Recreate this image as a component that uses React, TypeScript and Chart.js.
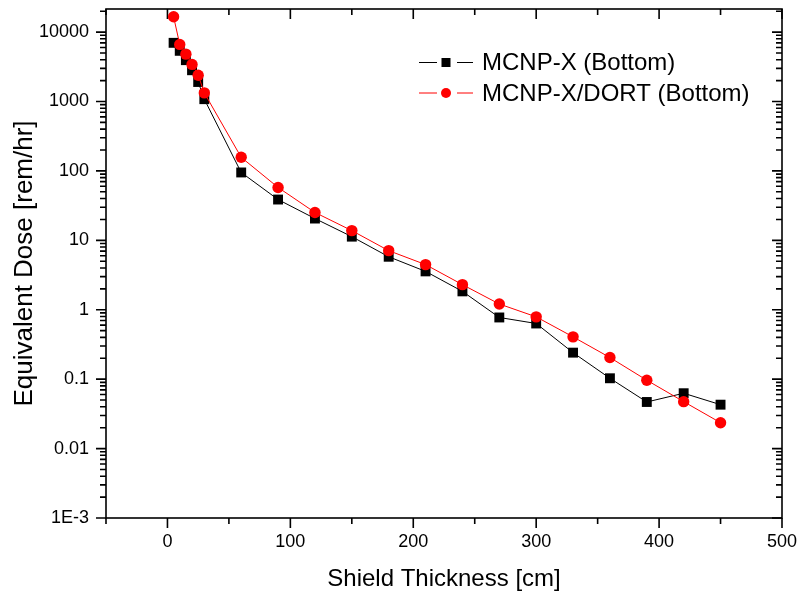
import React, { useEffect, useRef } from 'react';
import { Chart, registerables } from 'chart.js';

Chart.register(...registerables);

const thickness = [5, 10, 15, 20, 25, 30, 60, 90, 120, 150, 180, 210, 240, 270, 300, 330, 360, 390, 420, 450];
const mcnpx = [7000, 5370, 3940, 2820, 1910, 1080, 95, 38.7, 20.6, 11.3, 5.8, 3.57, 1.84, 0.774, 0.634, 0.241, 0.103, 0.0469, 0.0627, 0.0429];
const mcnpxDort = [16600, 6640, 4810, 3420, 2390, 1330, 157, 57.8, 25.2, 13.8, 7.1, 4.47, 2.3, 1.21, 0.79, 0.407, 0.205, 0.0966, 0.0474, 0.0236];
const seriesLabels = ['MCNP-X (Bottom)', 'MCNP-X/DORT (Bottom)'];
const seriesColors = ['#000000', '#ff0000'];
const yTickValues = [0.001, 0.01, 0.1, 1, 10, 100, 1000, 10000];
const xMajorTicks = [0, 100, 200, 300, 400, 500];
const xMinorTicks = [-50, 50, 150, 250, 350, 450];
const xTitle = 'Shield Thickness [cm]';
const yTitle = 'Equivalent Dose [rem/hr]';

const FONT = '"Liberation Sans", Arial, sans-serif';

const framePlugin = {
  id: 'originFrame',
  beforeDatasetsDraw(chart: any) {
    const { ctx, chartArea, scales } = chart;
    const { left, right, top, bottom } = chartArea;
    const x = scales.x;
    const y = scales.y;
    const major = 10;
    const minor = 6;
    ctx.save();
    ctx.strokeStyle = '#000';
    ctx.lineWidth = 1.6;
    ctx.strokeRect(left, top, right - left, bottom - top);
    ctx.beginPath();
    for (const v of xMajorTicks) {
      const px = x.getPixelForValue(v);
      ctx.moveTo(px, bottom); ctx.lineTo(px, bottom + major);
      ctx.moveTo(px, top); ctx.lineTo(px, top + major);
    }
    for (const v of xMinorTicks) {
      const px = x.getPixelForValue(v);
      ctx.moveTo(px, bottom); ctx.lineTo(px, bottom + minor);
      ctx.moveTo(px, top); ctx.lineTo(px, top + minor);
    }
    for (const v of yTickValues) {
      const py = y.getPixelForValue(v);
      ctx.moveTo(left, py); ctx.lineTo(left - major, py);
      ctx.moveTo(right, py); ctx.lineTo(right - major, py);
      for (let k = 2; k <= 9; k++) {
        const mv = v * k;
        if (mv > y.max) break;
        const mpy = y.getPixelForValue(mv);
        ctx.moveTo(left, mpy); ctx.lineTo(left - minor, mpy);
        ctx.moveTo(right, mpy); ctx.lineTo(right - minor, mpy);
      }
    }
    ctx.stroke();
    ctx.restore();
  },
};

const legendPlugin = {
  id: 'originLegend',
  afterDraw(chart: any) {
    const { ctx } = chart;
    ctx.save();
    const x0 = 419;
    const y0 = 62.5;
    const rowGap = 30.5;
    seriesLabels.forEach((label, i) => {
      const yy = y0 + i * rowGap;
      const color = seriesColors[i];
      ctx.strokeStyle = color;
      ctx.fillStyle = color;
      ctx.lineWidth = 1;
      ctx.beginPath();
      ctx.moveTo(x0, yy); ctx.lineTo(x0 + 18, yy);
      ctx.moveTo(x0 + 38, yy); ctx.lineTo(x0 + 54, yy);
      ctx.stroke();
      if (i === 0) {
        ctx.fillRect(x0 + 27 - 4.5, yy - 4.5, 9, 9);
      } else {
        ctx.beginPath();
        ctx.arc(x0 + 27, yy, 5, 0, Math.PI * 2);
        ctx.fill();
      }
      ctx.fillStyle = '#000';
      ctx.font = `24px ${FONT}`;
      ctx.textBaseline = 'middle';
      ctx.textAlign = 'left';
      ctx.fillText(label, x0 + 63, yy + 1);
    });
    ctx.restore();
  },
};

export default function App() {
  const canvasRef = useRef<HTMLCanvasElement | null>(null);

  useEffect(() => {
    if (!canvasRef.current) return;
    Chart.defaults.font.family = FONT;
    const chart = new Chart(canvasRef.current, {
      type: 'line',
      data: {
        datasets: [
          {
            label: seriesLabels[1],
            data: thickness.map((t, i) => ({ x: t, y: mcnpxDort[i] })),
            borderColor: seriesColors[1],
            backgroundColor: seriesColors[1],
            borderWidth: 1,
            pointStyle: 'circle',
            pointRadius: 5.7,
            pointBorderWidth: 0,
            order: 0,
          },
          {
            label: seriesLabels[0],
            data: thickness.map((t, i) => ({ x: t, y: mcnpx[i] })),
            borderColor: seriesColors[0],
            backgroundColor: seriesColors[0],
            borderWidth: 1,
            pointStyle: 'rect',
            pointRadius: 7,
            pointBorderWidth: 0,
            order: 1,
          },
        ],
      },
      options: {
        responsive: false,
        animation: false,
        layout: { padding: { top: 9, right: 21, left: 0, bottom: 0 } },
        plugins: { legend: { display: false }, tooltip: { enabled: false } },
        scales: {
          x: {
            type: 'linear',
            min: -50,
            max: 500,
            afterBuildTicks: (s: any) => { s.ticks = xMajorTicks.map((v) => ({ value: v })); },
            afterFit: (s: any) => { s.height = 88; s.paddingLeft = 0; s.paddingRight = 0; },
            grid: { display: false, drawTicks: true, tickLength: 10 },
            border: { display: false },
            ticks: { color: '#000', font: { size: 18 }, padding: 3, maxRotation: 0, autoSkip: false },
            title: { display: true, text: xTitle, color: '#000', font: { size: 24 }, padding: { top: 0, bottom: 12 } },
          },
          y: {
            type: 'logarithmic',
            min: 0.001,
            max: 21500,
            afterBuildTicks: (s: any) => { s.ticks = yTickValues.map((v) => ({ value: v })); },
            afterFit: (s: any) => { s.width = 106; s.paddingTop = 0; s.paddingBottom = 0; },
            grid: { display: false, drawTicks: true, tickLength: 10 },
            border: { display: false },
            ticks: {
              color: '#000',
              font: { size: 18 },
              padding: 7,
              autoSkip: false,
              callback: (v: any) => (Number(v) === 0.001 ? '1E-3' : String(Number(v))),
            },
            title: { display: true, text: yTitle, color: '#000', font: { size: 26 }, padding: { top: 9, bottom: 0 } },
          },
        },
      },
      plugins: [framePlugin, legendPlugin],
    } as any);
    return () => chart.destroy();
  }, []);

  return (
    <div style={{ position: 'absolute', left: 0, top: 0, width: 803, height: 606, background: '#fff' }}>
      <canvas ref={canvasRef} width={803} height={606} />
    </div>
  );
}
